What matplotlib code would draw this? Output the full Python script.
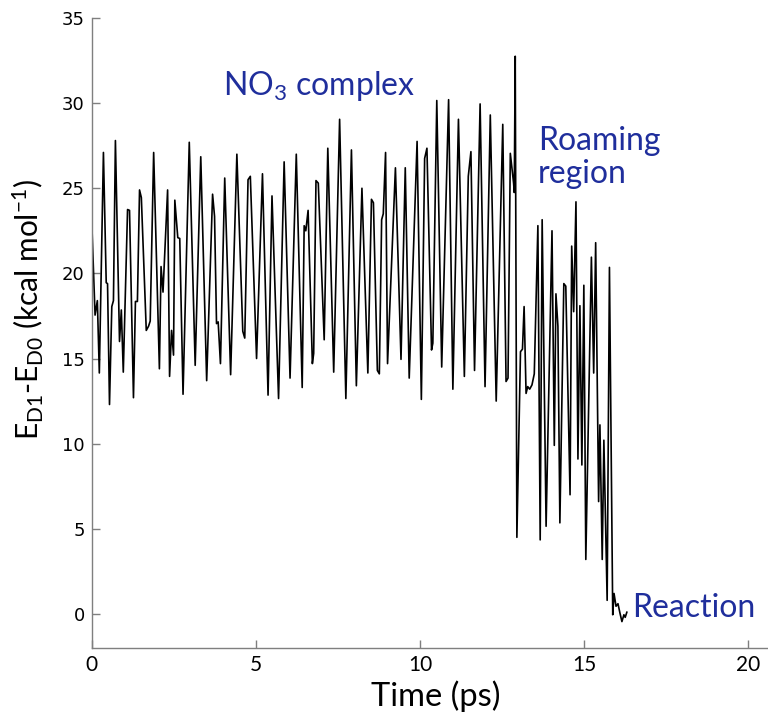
import matplotlib
matplotlib.use("Agg")
import matplotlib.pyplot as plt

plt.rcParams["mathtext.fontset"] = "custom"
plt.rcParams["mathtext.rm"] = "Lato"
plt.rcParams["mathtext.it"] = "Lato:italic"

t = [0.0, 0.10, 0.17, 0.23, 0.355, 0.44, 0.48, 0.54, 0.61, 0.66, 0.72, 0.845, 0.90, 0.96,
     1.09, 1.15, 1.27, 1.33, 1.39, 1.455, 1.51, 1.66, 1.73, 1.78, 1.885, 2.06, 2.11, 2.17,
     2.31, 2.37, 2.43, 2.49, 2.53, 2.62, 2.68, 2.78, 2.97, 3.15, 3.32, 3.50, 3.68, 3.74,
     3.80, 3.85, 3.92, 4.05, 4.23, 4.42, 4.60, 4.66, 4.76, 4.83, 5.02, 5.20, 5.37, 5.49,
     5.69, 5.86, 6.04, 6.23, 6.41, 6.47, 6.52, 6.59, 6.72, 6.76, 6.83, 6.90, 7.08, 7.19,
     7.37, 7.55, 7.74, 7.91, 8.06, 8.23, 8.41, 8.52, 8.58, 8.70, 8.76, 8.83, 8.88, 8.95,
     9.01, 9.25, 9.42, 9.55, 9.67, 9.91, 10.04, 10.14, 10.21, 10.35, 10.39, 10.51, 10.66,
     10.87, 11.00, 11.17, 11.35, 11.47, 11.55, 11.66, 11.83, 11.98, 12.14, 12.32, 12.52,
     12.62, 12.68, 12.75, 12.85, 12.87, 12.90, 12.95, 13.06, 13.12, 13.17, 13.23, 13.28,
     13.34, 13.41, 13.48, 13.59, 13.66, 13.72, 13.84, 14.02, 14.09, 14.14, 14.20, 14.26,
     14.38, 14.44, 14.57, 14.62, 14.68, 14.75, 14.81, 14.87, 14.93, 14.99, 15.05, 15.22,
     15.29, 15.35, 15.44, 15.48, 15.55, 15.60, 15.70, 15.77, 15.87, 15.91, 15.97, 16.03,
     16.09, 16.15, 16.21, 16.25, 16.30]
e = [23.0, 17.55, 18.4, 14.15, 27.1, 19.45, 19.4, 12.3, 18.05, 18.4, 27.8, 16.0, 17.85, 14.2,
     23.75, 23.7, 12.7, 18.35, 18.35, 24.9, 24.45, 16.65, 16.9, 17.2, 27.1, 14.4, 20.4, 18.9,
     24.9, 13.95, 16.65, 15.2, 24.3, 22.1, 22.05, 12.9, 27.7, 14.6, 26.85, 13.7, 24.65, 23.35,
     17.05, 17.15, 14.7, 25.6, 14.05, 27.0, 16.6, 16.2, 25.5, 25.7, 15.0, 25.85, 12.85, 24.55,
     12.65, 26.55, 13.85, 27.0, 13.3, 22.8, 22.5, 23.7, 14.7, 15.3, 25.45, 25.3, 16.1, 27.35,
     14.2, 29.05, 12.65, 27.25, 13.4, 25.0, 14.15, 24.35, 24.15, 14.3, 14.1, 23.15, 23.5, 27.1,
     14.7, 26.2, 14.95, 26.2, 13.85, 27.75, 12.6, 26.75, 27.35, 15.5, 15.9, 30.15, 14.5,
     30.2, 13.2, 29.05, 13.95, 25.7, 27.15, 14.3, 29.95, 13.35, 29.3, 12.5, 28.75,
     13.65, 13.85, 27.05, 25.3, 24.75, 32.75, 4.5, 15.4, 15.55, 18.05, 12.95, 13.35,
     13.2, 13.45, 14.1, 22.8, 4.35, 23.15, 5.15, 22.5, 9.9, 18.8, 16.9, 5.35,
     19.4, 19.25, 7.0, 21.6, 17.75, 24.2, 9.1, 18.1, 8.75, 19.3, 3.2, 20.95,
     14.15, 21.8, 6.6, 11.1, 3.2, 10.2, 0.8, 20.35, -0.05, 1.2, 0.45, 0.6,
     0.05, -0.45, -0.05, -0.2, 0.1]

xticks = [0, 5, 10, 15, 20]
yticks = [0, 5, 10, 15, 20, 25, 30, 35]
label_color = "#1f2e9c"

fig = plt.figure(figsize=(7.68, 7.13), dpi=100)
ax = fig.add_axes([0.1195, 0.0912, 0.8805, 0.8836])

ax.plot(t, e, color="black", linewidth=1.2)

ax.set_xlim(0, 20.6)
ax.set_ylim(-2, 35)
ax.set_xticks(xticks)
ax.set_yticks(yticks)

for side in ["top", "right"]:
    ax.spines[side].set_visible(False)
for side in ["left", "bottom"]:
    ax.spines[side].set_color("#7f7f7f")
    ax.spines[side].set_linewidth(1.0)
ax.tick_params(direction="in", length=6, color="#7f7f7f", width=1.0, pad=5)
for lab in ax.get_yticklabels():
    lab.set_fontfamily("DejaVu Sans")
    lab.set_fontsize(13)
for lab in ax.get_xticklabels():
    lab.set_fontfamily("Lato")
    lab.set_fontsize(15)

ax.set_xlabel("Time (ps)", fontsize=23.5, family="Lato")
ax.xaxis.set_label_coords(0.509, -0.052)
ax.set_ylabel(r"E$_{\mathrm{D1}}$-E$_{\mathrm{D0}}$ (kcal mol$^{\mathrm{-1}}$)",
              fontsize=21.5, family="Lato")
ax.yaxis.set_label_coords(-0.067, 0.538)

ax.text(4.0, 31.0, r"NO$_{\mathrm{3}}$ complex", color=label_color, fontsize=23,
        family="Lato", va="center", ha="left")
ax.text(13.6, 26.8, "Roaming\nregion", color=label_color, fontsize=23,
        family="Lato", va="center", ha="left", linespacing=1.15)
ax.text(16.45, 0.35, "Reaction", color=label_color, fontsize=23,
        family="Lato", va="center", ha="left")

fig.savefig("out.png", dpi=100)
